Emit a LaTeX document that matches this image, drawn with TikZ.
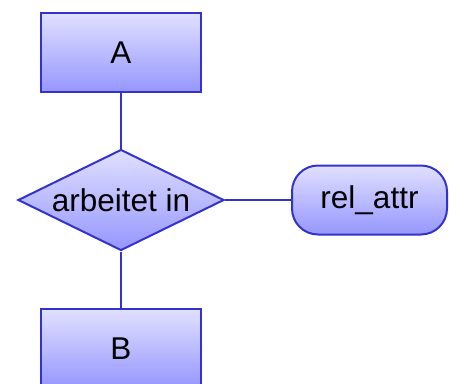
\documentclass[tikz,border=0pt]{standalone}
\usepackage{fontspec}
\setmainfont{Liberation Sans}
\usetikzlibrary{shapes.geometric}
\definecolor{edgeblue}{RGB}{51,51,204}
\definecolor{topfill}{RGB}{224,224,255}
\definecolor{botfill}{RGB}{150,150,255}
\tikzset{
  shapebase/.style={draw=edgeblue, line width=2pt, top color=topfill, bottom color=botfill, font=\fontsize{31.5}{36}\selectfont, inner sep=0pt},
  entity/.style={shapebase, rectangle, minimum width=160pt, minimum height=79pt},
  relation/.style={shapebase, diamond, aspect=2.04, minimum width=206pt, minimum height=101pt},
  attrib/.style={shapebase, rectangle, rounded corners=26pt, minimum width=155pt, minimum height=69pt},
  conn/.style={draw=edgeblue, line width=2pt}
}
\begin{document}
\begin{tikzpicture}[x=1pt,y=-1pt]
\useasboundingbox (0,0) rectangle (449,383);
\node[entity] (A) at (121,52.5) {A};
\node[relation] (R) at (121,200) {arbeitet in};
\node[attrib] (T) at (369.5,200) {rel\_attr};
\node[entity] (B) at (121,348.5) {B};
\draw[conn] (A.south) -- (R.north);
\draw[conn] (R.south) -- (B.north);
\draw[conn] (R.east) -- (T.west);
\end{tikzpicture}
\end{document}
